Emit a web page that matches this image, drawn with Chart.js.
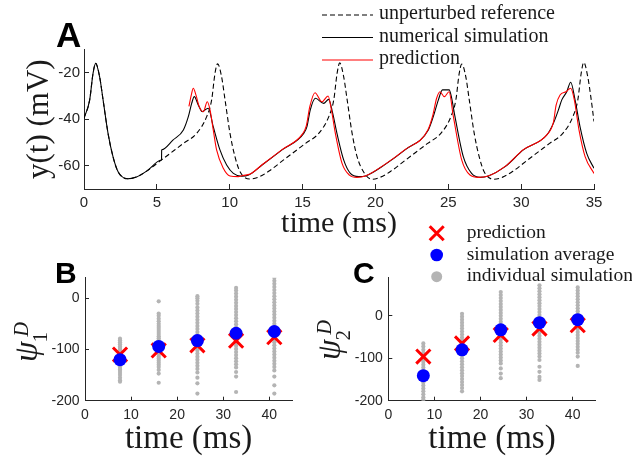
<!DOCTYPE html>
<html>
<head>
<meta charset="utf-8">
<script src="https://cdn.jsdelivr.net/npm/chart.js@4.4.1/dist/chart.umd.min.js"></script>
<style>
body { margin: 0; background: #fff; }
#wrap { position: relative; width: 632px; height: 459px; overflow: hidden; }
canvas { position: absolute; }
</style>
</head>
<body>
<div id="wrap">
  <canvas id="chartA" width="632" height="245" style="left:0px;top:0px"></canvas>
  <canvas id="chartB" width="316" height="244" style="left:0px;top:215px"></canvas>
  <canvas id="chartC" width="332" height="244" style="left:300px;top:215px"></canvas>
</div>
<script>
// ---- panel A: voltage traces (time in ms, y in mV) ----
var refT = [0, 0.39, 0.62, 0.8, 1.07, 1.31, 1.65, 1.99, 2.34, 3.0, 3.6, 4.3, 5.32, 6.82, 7.73, 8.42, 8.76, 8.99, 9.17,
  9.44, 9.68, 10.02, 10.36, 10.71, 11.37, 11.97, 12.67, 13.7, 15.2, 16.11, 16.8, 17.14, 17.37, 17.55,
  17.82, 18.06, 18.4, 18.74, 19.2, 19.75, 20.35, 21.05, 22.08, 23.58, 24.49, 25.18, 25.52, 25.75, 25.93,
  26.2, 26.44, 26.78, 27.12, 27.47, 28.13, 28.73, 29.43, 30.45, 31.95, 32.86, 33.55, 33.89, 34.12, 34.3,
  34.57, 34.81, 35];
var refV = [-39.6, -31.7, -20.3, -16, -21.7, -31.7, -46.1, -56.1, -62.6, -65.6, -64.8, -62.3, -57.5, -50.4, -46.1, -38.9, -31.7, -20.3, -16.2,
  -21.7, -31.7, -46.1, -56.1, -62.6, -65.7, -64.9, -62.4, -57.5, -50.4, -46.1, -38.9, -31.7, -20.3, -15.8,
  -21.7, -31.7, -46.1, -56.1, -62.8, -65.8, -64.9, -62.4, -57.5, -50.4, -46.1, -38.9, -31.7, -20.3, -16.3,
  -21.7, -31.7, -46.1, -56.1, -62.7, -65.8, -64.9, -62.4, -57.5, -50.4, -46.1, -38.9, -31.7, -20.3, -15.6,
  -21.7, -31.7, -41];

var simT = [0, 0.39, 0.62, 0.8, 1.07, 1.31, 1.65, 1.99, 2.34, 3.0, 3.6, 4.3, 5.31, 5.32, 5.33, 5.34, 6.1, 6.82, 7.16, 7.39, 7.57,
  7.85, 8.12, 8.35, 8.53, 8.87, 9.33, 9.79, 10.25, 10.82, 11.3, 12.22, 13.59, 15.08, 15.3, 15.53, 15.88,
  16.45, 16.79, 17.05, 17.36, 17.82, 18.28, 18.85, 19.31, 20.7, 22.03, 23.63, 23.97, 24.32, 24.6, 25.06,
  25.2, 25.46, 26.03, 26.6, 27.18, 27.75, 28.9, 30.15, 31.76, 32.21, 32.56, 32.79, 33.13, 33.4, 33.7,
  34.04, 34.5, 35];
var simV = [-39.6, -31.7, -20.3, -16, -21.7, -31.7, -46.1, -56.1, -62.6, -65.6, -64.8, -62.3, -57.55, -57.5, -53.2, -53.15, -49, -44.6, -38.9, -33.2, -30.3,
  -34, -36.8, -35.8, -35.3, -43.2, -53.2, -59.7, -63.3, -64.5, -64, -59.7, -53.2, -46.1, -43.2, -36, -31,
  -33.2, -31.5, -37, -46.1, -57.5, -63.3, -64.7, -64.4, -59.3, -53.2, -44.6, -38.9, -31.7, -27.4, -27.4,
  -30, -38.9, -56.1, -63.3, -65, -64.4, -60.4, -53.2, -46.8, -41.8, -36, -31.7, -28.2, -24.1, -31.7,
  -43.2, -54.7, -61.1];

var predT = [7.2, 7.35, 7.5, 7.7, 7.9, 8.19, 8.46, 8.65, 8.87, 9.1, 9.56, 10.02, 10.59, 10.9, 11.4, 12.22, 13.59,
  15.0, 15.25, 15.5, 15.85, 16.33, 16.75, 16.98, 17.25, 17.71, 18.21, 18.73, 19.31, 20.7, 22.03, 23.6,
  23.95, 24.2, 24.43, 24.73, 25.05, 25.35, 25.92, 26.49, 27.07, 27.75, 28.9, 30.15, 31.76, 32.21, 32.4,
  32.67, 33.08, 33.4, 33.65, 33.97, 34.39, 35];
var predV = [-34.5, -30, -26.7, -30, -34.5, -36.8, -32.5, -36, -44.6, -53.2, -61.1, -64.4, -64.7, -64.2, -63.6, -59.6, -53.1,
  -46.3, -43, -34.5, -28.6, -32.5, -30, -36, -46.1, -59, -64, -65, -64.4, -59.2, -53.1, -44.6,
  -38, -31, -28.2, -30.3, -28.2, -38.9, -57.5, -64, -65, -64.4, -60.3, -53.1, -46.7, -41.5, -34,
  -29.6, -28.2, -26.7, -31.7, -44.6, -56.1, -63.3];

var ticksAx = [0, 5, 10, 15, 20, 25, 30, 35];
var ticksAy = [-60, -40, -20];
var legendA = ["unperturbed reference", "numerical simulation", "prediction"];

// ---- panels B and C: phase response at each spike ----
var spikeTimes = [7.6, 16.0, 24.4, 32.8, 41.1];
var predB = [-110, -102, -92, -83, -76];
var avgB = [-120, -94, -82.6, -68.4, -65];
var predC = [-96, -65, -45, -30, -22];
var avgC = [-141, -80, -33, -16, -9];
var indivB = [
  [-79, -82, -86, -90, -94, -97, -100, -103, -106, -109, -112, -115, -118, -121, -124, -127, -130, -133, -136, -139, -142, -146, -150, -155, -160, -163],
  [-6, -30, -34, -40, -45, -50, -54, -58, -62, -66, -70, -74, -78, -82, -86, -90, -94, -98, -102, -106, -110, -114, -118, -122, -126, -130, -134, -140, -147, -165],
  [4, 0, -5, -11, -18, -24, -30, -36, -42, -48, -54, -60, -66, -72, -78, -84, -90, -96, -102, -108, -114, -120, -126, -132, -138, -145, -155, -166, -186],
  [20, 15, 9, 3, -3, -9, -15, -21, -27, -33, -39, -45, -51, -57, -63, -69, -75, -81, -87, -93, -99, -105, -111, -117, -123, -129, -135, -144, -153, -183],
  [40, 34, 28, 22, 16, 10, 4, -2, -8, -14, -20, -26, -32, -38, -44, -50, -56, -62, -68, -74, -80, -86, -92, -98, -104, -110, -116, -122, -128, -134, -141, -153, -170, -186]
];
var indivC = [
  [-65, -72, -80, -87, -94, -101, -108, -115, -122, -129, -136, -143, -150, -157, -164, -171, -178, -185, -192, -197],
  [5, -2, -9, -16, -23, -30, -37, -44, -51, -58, -65, -72, -79, -86, -93, -100, -107, -114, -121, -128, -135, -142, -149, -156, -163, -170, -178],
  [56, 49, 42, 35, 28, 21, 14, 7, 0, -7, -14, -21, -28, -35, -42, -49, -56, -63, -70, -77, -84, -91, -98, -105, -112, -124, -136, -147],
  [72, 65, 58, 51, 44, 37, 30, 23, 16, 9, 2, -5, -12, -19, -26, -33, -40, -47, -54, -61, -68, -75, -82, -89, -96, -104, -120, -132, -144, -151],
  [67, 60, 53, 46, 39, 32, 25, 18, 11, 4, -3, -10, -17, -24, -31, -38, -45, -52, -59, -66, -73, -80, -87, -96, -118]
];
var ticksBx = [0, 10, 20, 30, 40];
var ticksBy = [-200, -100, 0];
var legendBC = ["prediction", "simulation average", "individual simulation"];

var axisColor = '#262626';
var serif = '"Liberation Serif", "Times New Roman", serif';
var sans = '"Liberation Sans", Arial, sans-serif';

function pairs( xs, ys )
{
        return xs.map( function ( x, i ) { return { x: x, y: ys[ i ] }; } );
}
function setTicks( values )
{
        return function ( scale ) { scale.ticks = values.map( function ( v ) { return { value: v }; } ); };
}

// panel letter (A, B, C)
var panelLetter = {
        id: 'panelLetter',
        afterDraw: function ( chart, args, opts )
        {
                var ctx = chart.ctx;
                ctx.save();
                ctx.fillStyle = '#000';
                ctx.font = 'bold ' + opts.size + 'px ' + sans;
                ctx.textBaseline = 'alphabetic';
                ctx.fillText( opts.text, opts.x, opts.y );
                ctx.restore();
        }
};

// rotated psi_k^D y label
var psiLabel = {
        id: 'psiLabel',
        afterDraw: function ( chart, args, opts )
        {
                if ( !opts.sub ) return;
                var ctx = chart.ctx;
                ctx.save();
                ctx.translate( opts.x, opts.y );
                ctx.rotate( -Math.PI/2 );
                ctx.fillStyle = '#1a1a1a';
                ctx.textBaseline = 'alphabetic';
                ctx.font = 'italic 33px ' + serif;
                ctx.fillText( 'ψ', 0, 0 );
                var w = ctx.measureText( 'ψ' ).width;
                ctx.font = '21px ' + serif;
                ctx.fillText( opts.sub, w - 1, 10 );
                ctx.font = 'italic 20px ' + serif;
                ctx.fillText( 'D', w + 5, -8.5 );
                ctx.restore();
        }
};

// line legend of panel A
var lineLegend = {
        id: 'lineLegend',
        afterDraw: function ( chart, args, opts )
        {
                if ( !opts.show ) return;
                var ctx = chart.ctx;
                ctx.save();
                ctx.font = '20px ' + serif;
                ctx.textBaseline = 'alphabetic';
                legendA.forEach( function ( name, i )
                {
                        var ds = chart.data.datasets.find( function ( d ) { return d.label === name; } );
                        var y = 15 + i*22.5;
                        ctx.strokeStyle = ds.borderColor;
                        ctx.lineWidth = 1.1;
                        ctx.setLineDash( ds.borderDash || [] );
                        ctx.beginPath();
                        ctx.moveTo( 322, y );
                        ctx.lineTo( 373, y );
                        ctx.stroke();
                        ctx.setLineDash( [] );
                        ctx.fillStyle = '#1a1a1a';
                        ctx.fillText( name, 379, y + 4 );
                } );
                ctx.restore();
        }
};

// marker legend of panels B/C (drawn on canvas C)
var markerLegend = {
        id: 'markerLegend',
        afterDraw: function ( chart, args, opts )
        {
                if ( !opts.show ) return;
                var ctx = chart.ctx;
                var mx = 136.7, tx = 166.7;
                ctx.save();
                // red cross
                var y0 = 18.3, r = 7;
                ctx.strokeStyle = '#ff0000';
                ctx.lineWidth = 3;
                ctx.beginPath();
                ctx.moveTo( mx - r, y0 - r ); ctx.lineTo( mx + r, y0 + r );
                ctx.moveTo( mx + r, y0 - r ); ctx.lineTo( mx - r, y0 + r );
                ctx.stroke();
                // blue dot
                ctx.fillStyle = '#0000ff';
                ctx.beginPath(); ctx.arc( mx, 40, 6.3, 0, Math.PI*2 ); ctx.fill();
                // gray dot
                ctx.fillStyle = '#b4b4b4';
                ctx.beginPath(); ctx.arc( mx, 61.7, 5.5, 0, Math.PI*2 ); ctx.fill();
                ctx.font = '19.5px ' + serif;
                ctx.fillStyle = '#1a1a1a';
                ctx.textBaseline = 'alphabetic';
                legendBC.forEach( function ( name, i ) { ctx.fillText( name, tx, 18.3 + i*21.7 + 4.5 ); } );
                ctx.restore();
        }
};

Chart.register( panelLetter, psiLabel, lineLegend, markerLegend );

function tickFont( size ) { return { family: sans, size: size }; }

// ---- chart A ----
var ctxA=document.getElementById( 'chartA' ).getContext( '2d' );
var chartA=new Chart( ctxA, {
        type: 'line',
        data: {
                datasets: [ {
                        label: legendA[ 2 ],
                        data: pairs( predT, predV ),
                        borderColor: '#ff0000',
                        borderWidth: 1.1
                },
                {
                        label: legendA[ 1 ],
                        data: pairs( simT, simV ),
                        borderColor: '#000000',
                        borderWidth: 1.1
                },
                {
                        label: legendA[ 0 ],
                        data: pairs( refT, refV ),
                        borderColor: '#000000',
                        borderDash: [ 5, 3 ],
                        borderWidth: 1.1
                } ]
        },
        options: {
                responsive: false,
                animation: false,
                parsing: false,
                elements: { point: { radius: 0 }, line: { cubicInterpolationMode: 'monotone' } },
                layout: { padding: { top: 49.4, right: 38, left: 0, bottom: 0 } },
                scales: {
                        x: {
                                type: 'linear', min: 0, max: 35,
                                afterBuildTicks: setTicks( ticksAx ),
                                afterFit: function ( s ) { s.height = 56; },
                                grid: { drawOnChartArea: false, tickLength: -5, color: axisColor },
                                border: { color: axisColor },
                                ticks: { color: axisColor, font: tickFont( 15 ), padding: 10, maxRotation: 0, autoSkip: false },
                                title: { display: true, text: 'time (ms)', color: '#1a1a1a', font: { family: serif, size: 30, lineHeight: 1.2 }, padding: { top: 0, bottom: 3 } }
                        },
                        y: {
                                type: 'linear', min: -70, max: -10,
                                afterBuildTicks: setTicks( ticksAy ),
                                afterFit: function ( s ) { s.width = 84; },
                                grid: { drawOnChartArea: false, tickLength: -5, color: axisColor },
                                border: { color: axisColor },
                                ticks: { color: axisColor, font: tickFont( 15 ), padding: 9, autoSkip: false },
                                title: { display: true, text: 'y(t) (mV)', color: '#1a1a1a', font: { family: serif, size: 31, lineHeight: 1.2 }, padding: { top: 21, bottom: 0 } }
                        }
                },
                plugins: {
                        legend: { display: false },
                        tooltip: { enabled: false },
                        panelLetter: { text: 'A', x: 56, y: 47, size: 35 },
                        lineLegend: { show: true }
                }
        }
} );

// ---- charts B and C ----
function dotChart( id, avg, pred, indiv, yMax, leftW, rightPad, letterX, psiX, psiY, sub, withLegend )
{
        var gray = [];
        indiv.forEach( function ( col, i ) { col.forEach( function ( v ) { gray.push( { x: spikeTimes[ i ], y: v } ); } ); } );
        var ctx=document.getElementById( id ).getContext( '2d' );
        return new Chart( ctx, {
                type: 'scatter',
                data: {
                        datasets: [ {
                                label: legendBC[ 1 ],
                                data: pairs( spikeTimes, avg ),
                                pointStyle: 'circle',
                                pointRadius: 6.5,
                                pointBorderWidth: 0,
                                backgroundColor: '#0000ff'
                        },
                        {
                                label: legendBC[ 0 ],
                                data: pairs( spikeTimes, pred ),
                                pointStyle: 'crossRot',
                                pointRadius: 10,
                                pointBorderWidth: 3,
                                borderColor: '#ff0000'
                        },
                        {
                                label: legendBC[ 2 ],
                                data: gray,
                                pointStyle: 'circle',
                                pointRadius: 2.1,
                                pointBorderWidth: 0,
                                backgroundColor: '#b4b4b4'
                        } ]
                },
                options: {
                        responsive: false,
                        animation: false,
                        layout: { padding: { top: 62.7, right: rightPad, left: 0, bottom: 0 } },
                        scales: {
                                x: {
                                        type: 'linear', min: 0, max: 45,
                                        afterBuildTicks: setTicks( ticksBx ),
                                        afterFit: function ( s ) { s.height = 58.3; },
                                        grid: { drawOnChartArea: false, tickLength: -4, color: axisColor },
                                        border: { color: axisColor },
                                        ticks: { color: axisColor, font: tickFont( 14 ), padding: 10, maxRotation: 0, autoSkip: false },
                                        title: { display: true, text: 'time (ms)', color: '#1a1a1a', font: { family: serif, size: 33, lineHeight: 1 }, padding: { top: 0, bottom: 3.5 } }
                                },
                                y: {
                                        type: 'linear', min: -200, max: yMax,
                                        afterBuildTicks: setTicks( ticksBy ),
                                        afterFit: function ( s ) { s.width = leftW; },
                                        grid: { drawOnChartArea: false, tickLength: -4, color: axisColor },
                                        border: { color: axisColor },
                                        ticks: { color: axisColor, font: tickFont( 14 ), padding: 9.5, autoSkip: false }
                                }
                        },
                        plugins: {
                                legend: { display: false },
                                tooltip: { enabled: false },
                                panelLetter: { text: letterX[ 0 ], x: letterX[ 1 ], y: 68, size: 30 },
                                psiLabel: { x: psiX, y: psiY, sub: sub },
                                markerLegend: { show: withLegend }
                        }
                }
        } );
}

var chartB=dotChart( 'chartB', avgB, predB, indivB, 40, 85, 23.7, [ 'B', 55 ], 36.5, 147, '1', false );
var chartC=dotChart( 'chartC', avgC, predC, indivC, 90, 88.3, 36.3, [ 'C', 53 ], 39.8, 145, '2', true );
</script>
</body>
</html>
